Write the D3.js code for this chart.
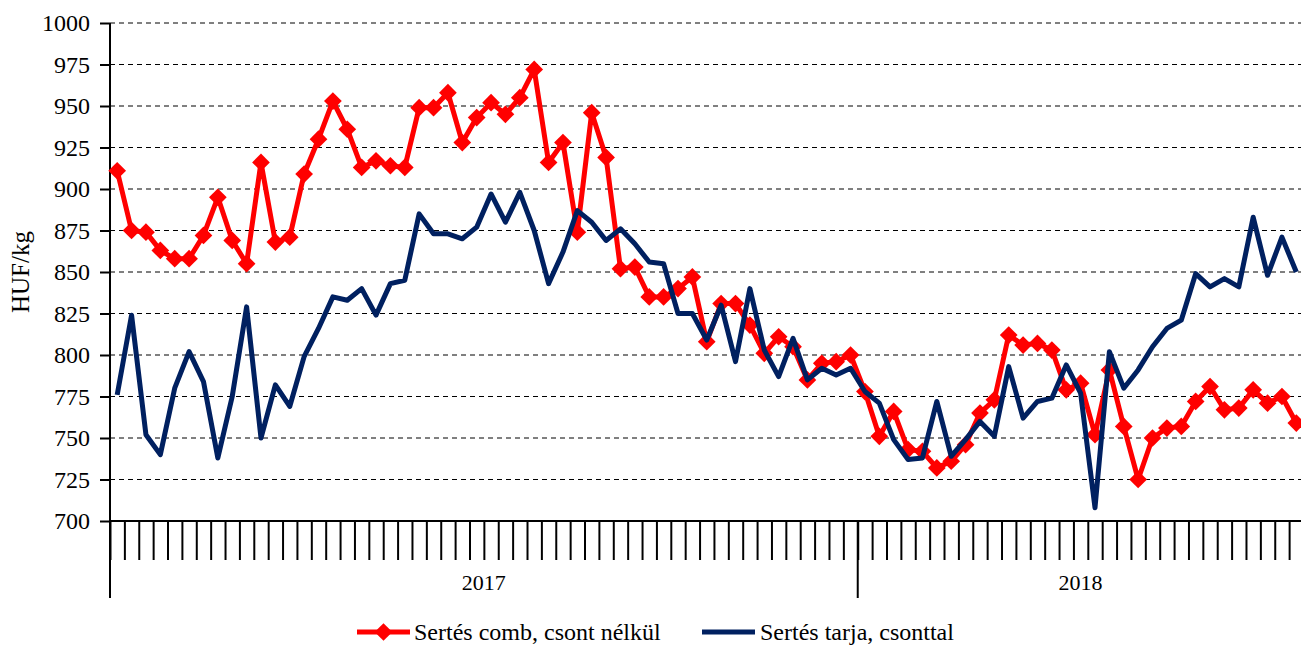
<!DOCTYPE html>
<html>
<head>
<meta charset="utf-8">
<script src="https://cdn.jsdelivr.net/npm/d3@7/dist/d3.min.js"></script>
<style>
  html, body { margin: 0; padding: 0; background: #fff; }
  svg { display: block; font-family: "Liberation Serif", "Times New Roman", serif; }
</style>
</head>
<body>
<svg id="chart" width="1301" height="645"></svg>
<script>
// ---- data ----
const years = ["2017", "2018"];
const weeksPerYear = [52, 31];
const yTicks = [700, 725, 750, 775, 800, 825, 850, 875, 900, 925, 950, 975, 1000];
const seriesNames = ["Sertés comb, csont nélkül", "Sertés tarja, csonttal"];
const combValues = [
  911,875,874,863,858,858,872,895,869,855,
  916,868,871,909,930,953,936,913,917,914,
  913,949,949,958,928,943,952,945,955,972,
  916,928,874,946,919,852,853,835,835,840,
  847,808,831,831,818,801,811,805,785,795,
  796,800,778,751,766,743,742,732,736,746,
  765,773,812,806,807,803,779,783,752,791,
  757,725,750,756,757,772,781,767,768,779,
  771,775,759
];
const tarjaValues = [
  776,824,752,740,780,802,784,738,775,829,
  750,782,769,799,816,835,833,840,824,843,
  845,885,873,873,870,877,897,880,898,875,
  843,862,887,880,869,876,867,856,855,825,
  825,809,830,796,840,803,787,810,785,792,
  788,792,778,771,749,737,738,772,739,749,
  760,751,793,762,772,774,794,777,708,802,
  780,791,805,816,821,849,841,846,841,883,
  848,871,850
];

// categories: year-week
const categories = [];
years.forEach((yr, yi) => { for (let w = 1; w <= weeksPerYear[yi]; w++) categories.push(yr + "-" + w); });

const svg = d3.select("#chart");
const mLeft = 110, mRight = 1303.5, mTop = 23, mBottom = 521;

const x = d3.scaleBand().domain(categories).range([mLeft, mRight]).padding(0);
const xb = d3.scaleLinear().domain([0, categories.length]).range([mLeft, mRight]);
const y = d3.scaleLinear().domain([700, 1000]).range([mBottom, mTop]);

const redColor = "#ff0000", blueColor = "#002060";

// gridlines
svg.append("g").selectAll("line").data(yTicks.filter(v => v > 700)).join("line")
  .attr("x1", mLeft).attr("x2", 1301)
  .attr("y1", d => y(d)).attr("y2", d => y(d))
  .attr("stroke", "#000").attr("stroke-width", 1)
  .attr("stroke-dasharray", "5,4");

// y axis
const yAxis = svg.append("g").attr("transform", `translate(${mLeft},0)`)
  .call(d3.axisLeft(y).tickValues(yTicks).tickSize(10).tickPadding(10).tickFormat(d3.format("d")));
yAxis.select(".domain").remove();
yAxis.selectAll(".tick line").attr("stroke", "#000").attr("stroke-width", 2);
yAxis.selectAll(".tick text").attr("font-size", 24).attr("fill", "#000")
  .attr("font-family", "Liberation Serif");

// x axis minor ticks (band boundaries)
const xAxis = svg.append("g").attr("transform", `translate(0,${mBottom})`)
  .call(d3.axisBottom(xb).tickValues(d3.range(0, categories.length + 1)).tickSize(39).tickFormat(""));
xAxis.select(".domain").remove();
xAxis.selectAll(".tick line").attr("stroke", "#000").attr("stroke-width", 2);

// year boundaries
const yearStarts = [0];
weeksPerYear.forEach((n, i) => yearStarts.push(yearStarts[i] + n));
svg.append("g").selectAll("line").data(yearStarts).join("line")
  .attr("x1", d => xb(d)).attr("x2", d => xb(d))
  .attr("y1", mBottom).attr("y2", 598)
  .attr("stroke", "#000").attr("stroke-width", 2);

// year labels
svg.append("g").selectAll("text").data(years).join("text")
  .attr("x", (d, i) => (xb(yearStarts[i]) + xb(yearStarts[i + 1])) / 2)
  .attr("y", 590)
  .attr("text-anchor", "middle")
  .attr("font-size", 22)
  .attr("fill", "#000")
  .text(d => d);

// axis lines
svg.append("line").attr("x1", mLeft).attr("x2", mLeft).attr("y1", mTop).attr("y2", mBottom)
  .attr("stroke", "#000").attr("stroke-width", 2);
svg.append("line").attr("x1", mLeft).attr("x2", 1301).attr("y1", mBottom).attr("y2", mBottom)
  .attr("stroke", "#000").attr("stroke-width", 2);

// y title
svg.append("text")
  .attr("transform", `translate(29,${(mTop + mBottom) / 2}) rotate(-90)`)
  .attr("text-anchor", "middle")
  .attr("font-size", 25)
  .attr("fill", "#000")
  .text("HUF/kg");

// lines
const line = d3.line().x((d, i) => x(categories[i]) + x.bandwidth() / 2).y(d => y(d));
const diamond = d3.symbol().type(d3.symbolDiamond2).size(200);

const gRed = svg.append("g");
gRed.append("path").datum(combValues)
  .attr("d", line).attr("fill", "none").attr("stroke", redColor)
  .attr("stroke-width", 5).attr("stroke-linejoin", "round");
gRed.selectAll("path.m").data(combValues).join("path").attr("class", "m")
  .attr("transform", (d, i) => `translate(${x(categories[i]) + x.bandwidth() / 2},${y(d)})`)
  .attr("d", diamond).attr("fill", redColor);

svg.append("path").datum(tarjaValues)
  .attr("d", line).attr("fill", "none").attr("stroke", blueColor)
  .attr("stroke-width", 5).attr("stroke-linejoin", "round");

// legend
const lg = svg.append("g").attr("transform", "translate(0,632)");
lg.append("line").attr("x1", 357).attr("x2", 410).attr("y1", 0).attr("y2", 0)
  .attr("stroke", redColor).attr("stroke-width", 5);
lg.append("path").attr("transform", "translate(383.5,0)").attr("d", diamond).attr("fill", redColor);
lg.append("text").attr("x", 414).attr("y", 8).attr("font-size", 24).attr("fill", "#000").text(seriesNames[0]);
lg.append("line").attr("x1", 702).attr("x2", 755).attr("y1", 0).attr("y2", 0)
  .attr("stroke", blueColor).attr("stroke-width", 5);
lg.append("text").attr("x", 760).attr("y", 8).attr("font-size", 24).attr("fill", "#000").text(seriesNames[1]);
</script>
</body>
</html>
